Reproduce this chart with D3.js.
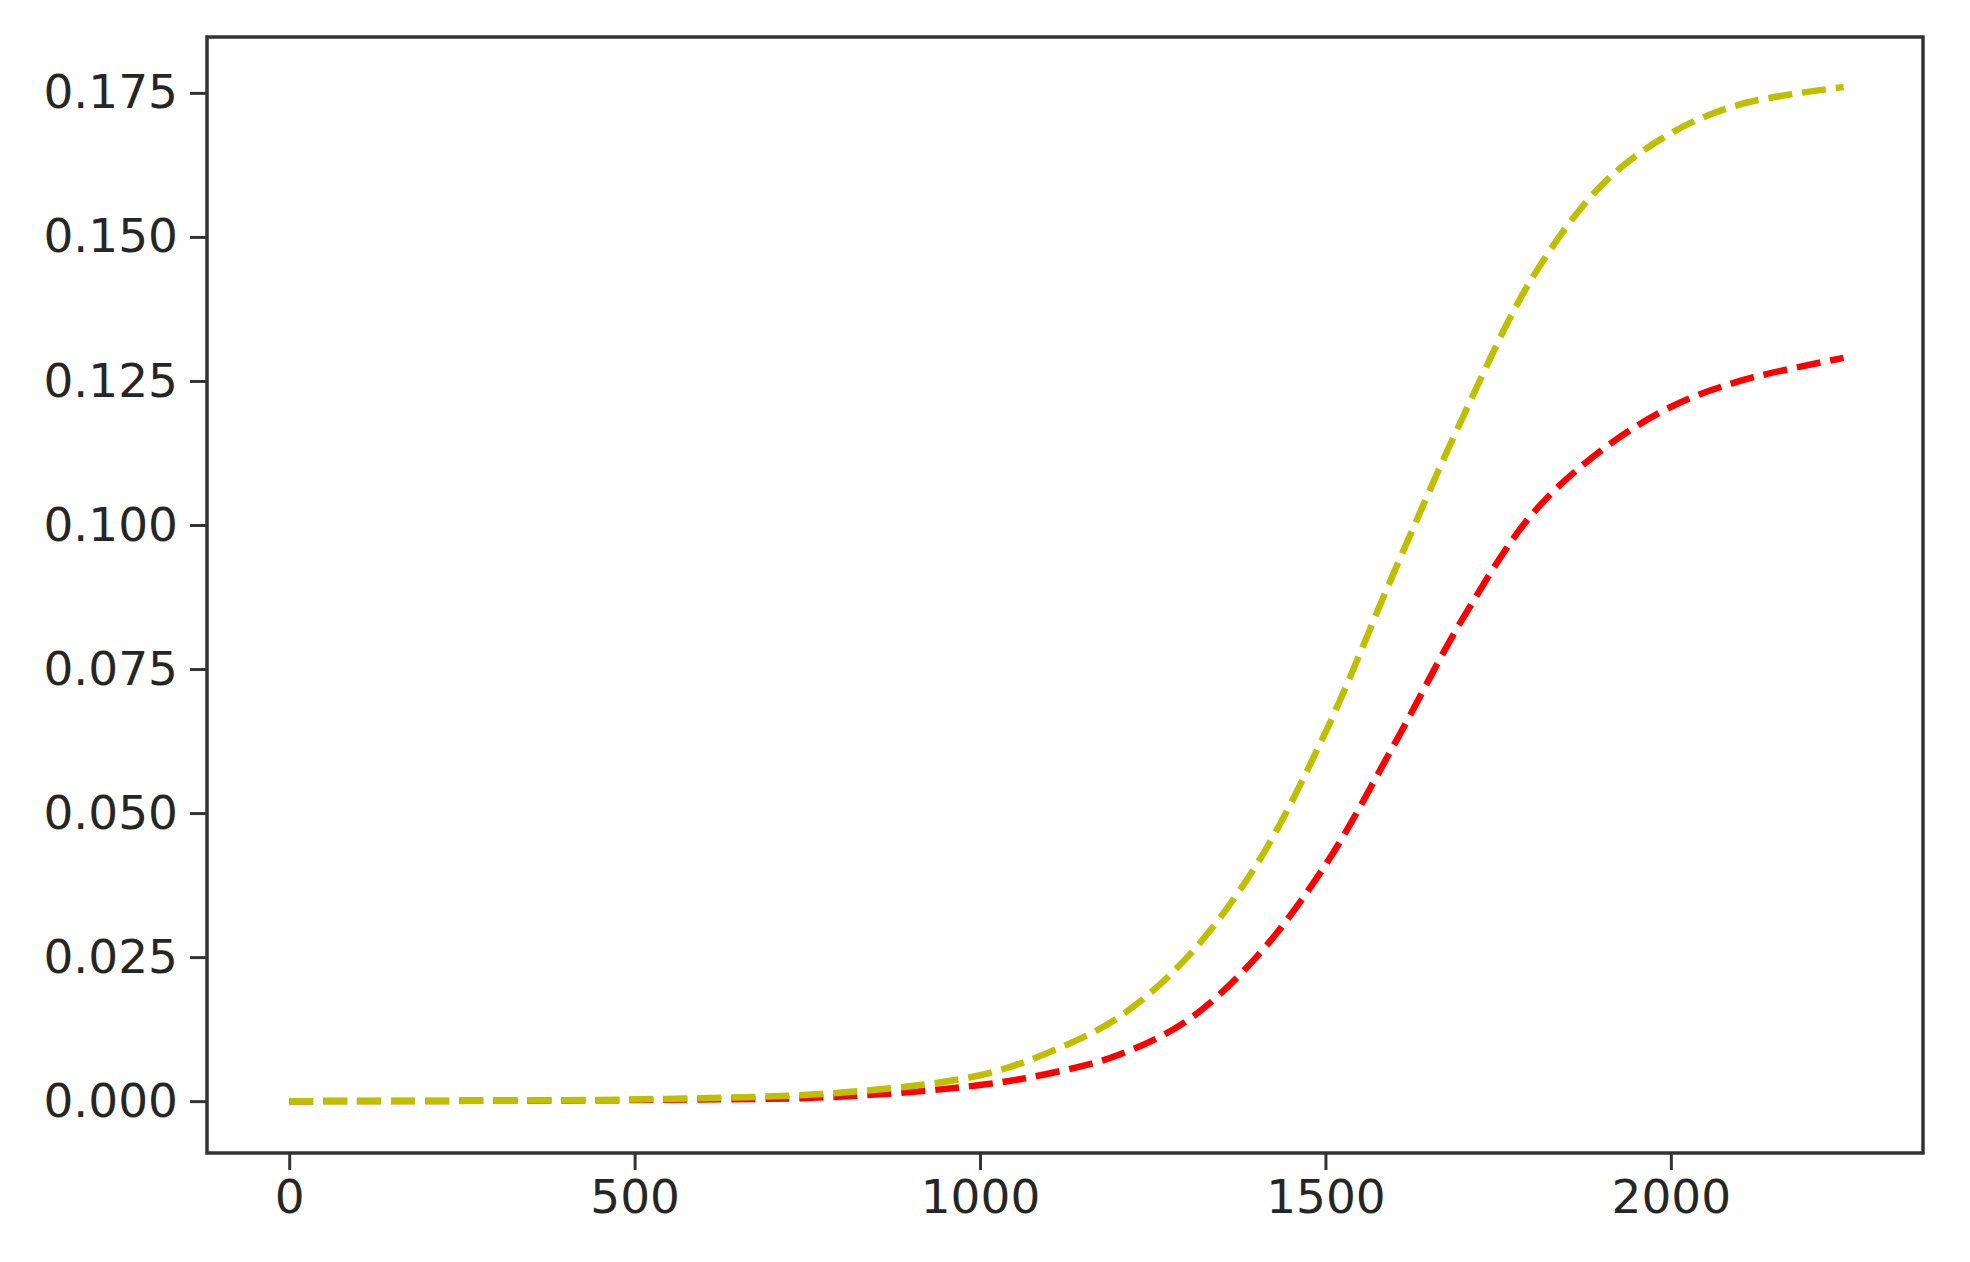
<!DOCTYPE html><html><head><meta charset="utf-8"><script src="https://cdn.jsdelivr.net/npm/d3@7"></script>
<style>body{margin:0;background:#fff}</style></head><body><svg id="c" width="1970" height="1262"></svg>
<script>
const xs = [0,500,800,1000,1100,1200,1300,1400,1500,1600,1700,1800,1900,2000,2100,2250];
const redVals = [0,0.0002,0.0008,0.0028,0.0048,0.0080,0.0140,0.025,0.041,0.062,0.084,0.102,0.113,0.1205,0.125,0.129];
const yellowVals = [0,0.0003,0.0015,0.0045,0.0085,0.0145,0.0250,0.041,0.064,0.092,0.119,0.143,0.159,0.168,0.173,0.176];
const xTicks = [0,500,1000,1500,2000];
const yTicks = [0,0.025,0.05,0.075,0.1,0.125,0.15,0.175];
const svg = d3.select("#c");
const L=207,T=37,R=1923,B=1153;
const x = d3.scaleLinear().domain([-119,2365]).range([L,R]);
const y = d3.scaleLinear().domain([-0.0090,0.1847]).range([B,T]);
const line = d3.line().x(d=>x(d[0])).y(d=>y(d[1])).curve(d3.curveCatmullRom.alpha(0.5));
[[redVals,"#ff0000"],[yellowVals,"#bfbf00"]].forEach(([v,c])=>{
  svg.append("path").attr("d",line(xs.map((t,i)=>[t,v[i]]))).attr("fill","none")
   .attr("stroke",c).attr("stroke-width",6.5).attr("stroke-dasharray","24,10");
});
const xa = svg.append("g").attr("transform",`translate(0,${B})`).call(d3.axisBottom(x).tickValues(xTicks).tickSize(17).tickPadding(10).tickFormat(d3.format("d")));
const ya = svg.append("g").attr("transform",`translate(${L},0)`).call(d3.axisLeft(y).tickValues(yTicks).tickSize(17).tickPadding(12).tickFormat(d3.format(".3f")));
[xa,ya].forEach(a=>{a.select(".domain").remove();a.selectAll("line").attr("stroke","#333").attr("stroke-width",3);
 a.selectAll("text").attr("font-family","DejaVu Sans").attr("font-size",47).attr("fill","#262626");});
svg.append("rect").attr("x",L).attr("y",T).attr("width",R-L).attr("height",B-T).attr("fill","none").attr("stroke","#333").attr("stroke-width",3.5);
</script></body></html>
